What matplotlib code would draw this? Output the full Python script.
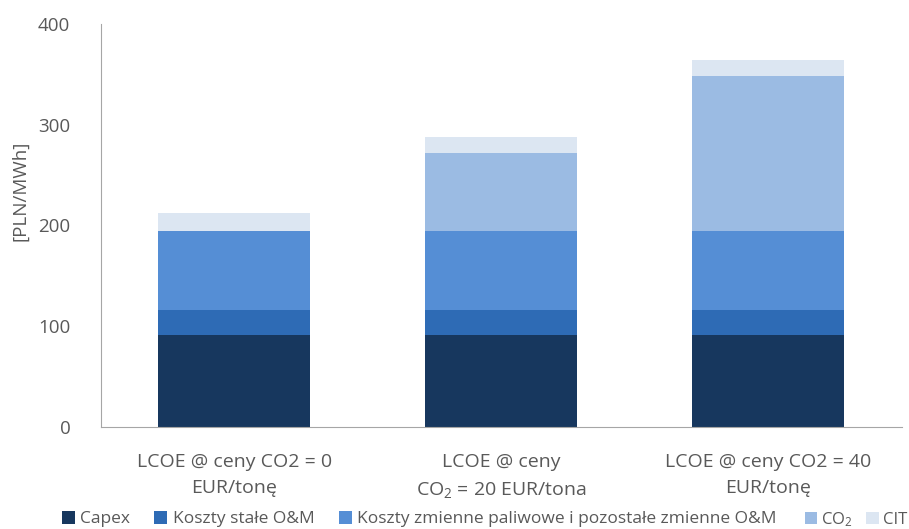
import matplotlib.pyplot as plt
import numpy as np

plt.rcParams['font.family'] = ['Open Sans', 'DejaVu Sans']
plt.rcParams['mathtext.fontset'] = 'custom'
plt.rcParams['mathtext.rm'] = 'Open Sans'
plt.rcParams['mathtext.it'] = 'Open Sans'

# LCOE components, PLN/MWh
categories = ['LCOE @ ceny CO2 = 0\nEUR/tonę',
              'LCOE @ ceny\nCO$_2$ = 20 EUR/tona',
              'LCOE @ ceny CO2 = 40\nEUR/tonę']
capex = [91, 91, 91]
fixed_om = [25, 25, 25]
variable_om = [78.5, 78.5, 78.5]
co2 = [0, 77.5, 154]
cit = [17.5, 16, 15.5]

series = [
    ('Capex', capex, '#17375e'),
    ('Koszty stałe O&M', fixed_om, '#2e6bb5'),
    ('Koszty zmienne paliwowe i pozostałe zmienne O&M', variable_om, '#558ed5'),
    ('CO$_2$', co2, '#9bbbe3'),
    ('CIT', cit, '#dce6f2'),
]

grey = '#595959'

fig = plt.figure(figsize=(9.09, 5.29), dpi=100)
ax = fig.add_axes([0.111, 0.193, 0.881, 0.762])

x = np.arange(len(categories))
bottom = np.zeros(len(categories))
bars = []
for name, vals, color in series:
    bars.append(ax.bar(x, vals, 0.57, bottom=bottom, color=color, label=name))
    bottom += np.array(vals)

ax.set_xlim(-0.5, 2.5)
ax.set_ylim(0, 400)
ax.set_yticks([0, 100, 200, 300, 400])
ax.set_xticks(x)
ax.set_xticklabels(categories, fontsize=14, color=grey, linespacing=1.55)
ax.tick_params(axis='both', length=0, labelcolor=grey)
ax.tick_params(axis='y', labelsize=13.5, pad=22)
ax.tick_params(axis='x', pad=19)
ax.set_ylabel('[PLN/MWh]', fontsize=13.5, color=grey)
ax.yaxis.set_label_coords(-0.09, 0.586)

for s in ['top', 'right']:
    ax.spines[s].set_visible(False)
for s in ['left', 'bottom']:
    ax.spines[s].set_color('#a6a6a6')
    ax.spines[s].set_linewidth(0.8)

# legend split in two so the short CO2 / CIT entries sit closer together
names = [s[0] for s in series]
leg1 = ax.legend(bars[:3], names[:3], loc='center left', bbox_to_anchor=(-0.0487, -0.229),
                 ncol=3, frameon=False, fontsize=12.5, labelcolor=grey,
                 handlelength=0.75, handleheight=0.75, handletextpad=0.3,
                 columnspacing=1.4, borderaxespad=0, borderpad=0)
ax.add_artist(leg1)
ax.legend(bars[3:], names[3:], loc='center left', bbox_to_anchor=(0.879, -0.229),
          ncol=2, frameon=False, fontsize=12, labelcolor=grey,
          handlelength=0.75, handleheight=0.75, handletextpad=0.25,
          columnspacing=0.8, borderaxespad=0, borderpad=0)

fig.savefig('out.png', dpi=100)
